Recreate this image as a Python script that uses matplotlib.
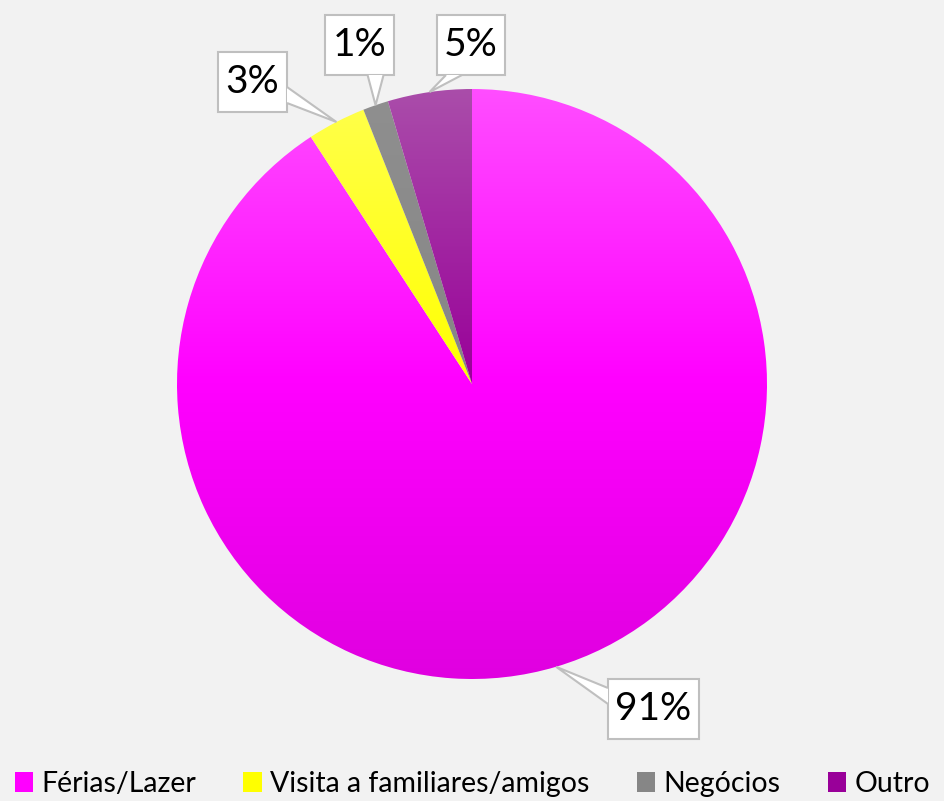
import numpy as np
import matplotlib
matplotlib.use("Agg")
import matplotlib.pyplot as plt
from matplotlib.colors import LinearSegmentedColormap
from matplotlib.patches import Rectangle, Polygon, Patch

plt.rcParams['font.family'] = ['Lato', 'DejaVu Sans']

# data
categories = ['Férias/Lazer', 'Visita a familiares/amigos', 'Negócios', 'Outro']
values = [90.8, 3.2, 1.4, 4.6]
pct_labels = ['91%', '3%', '1%', '5%']

# colours: (light top, base, dark bottom)
base_colors = ['#FF00FF', '#FFFF00', '#868686', '#990099']
light_colors = ['#FF4DFF', '#FFFF4D', '#8F8F8F', '#AA4DAA']
dark_colors = ['#E000E0', '#E0E000', '#7A7A7A', '#870087']

# layout (pixels)
W, H = 945, 801
CX, CY, R = 472, 384, 295
label_boxes = [  # centre x, centre y, width, height
    (653.5, 709, 91, 60),
    (252.5, 82, 69, 60),
    (359.5, 45, 69, 60),
    (471, 45, 68, 60),
]


def to_data(px, py):
    return (px - CX) / R, (CY - py) / R


fig = plt.figure(figsize=(W / 100, H / 100), dpi=100, facecolor='#F2F2F2')
ax = fig.add_axes([0, 0, 1, 1])
ax.set_facecolor('#F2F2F2')

wedges, _ = ax.pie(values, startangle=90, counterclock=False, radius=1,
                   center=(0, 0), wedgeprops=dict(linewidth=0))

grad = np.linspace(0, 1, 256).reshape(-1, 1)
for w, lc, bc, dc in zip(wedges, light_colors, base_colors, dark_colors):
    w.set_facecolor('none')
    cmap = LinearSegmentedColormap.from_list('g', [lc, bc, dc])
    im = ax.imshow(grad, cmap=cmap, extent=(-1, 1, -1, 1), origin='upper',
                   aspect='auto', interpolation='bilinear', zorder=1)
    im.set_clip_path(w)

ax.set_xlim(-CX / R, (W - CX) / R)
ax.set_ylim((CY - H) / R, CY / R)
ax.set_aspect('auto')
ax.axis('off')

# callout labels
edge = '#BFBFBF'
half = 8 / R
margin = 17 / R
for w, txt, (bx, by, bw, bh) in zip(wedges, pct_labels, label_boxes):
    mid = np.deg2rad((w.theta1 + w.theta2) / 2)
    tip = (np.cos(mid), np.sin(mid))
    cx, cy = to_data(bx, by)
    hw, hh = bw / 2 / R, bh / 2 / R
    x0, x1, y0, y1 = cx - hw, cx + hw, cy - hh, cy + hh
    ax.add_patch(Rectangle((x0, y0), x1 - x0, y1 - y0, facecolor='white',
                           edgecolor=edge, linewidth=1.5, zorder=3))
    dx = max(x0 - tip[0], tip[0] - x1, 0)
    dy = max(y0 - tip[1], tip[1] - y1, 0)
    if dx > dy:
        sx = x1 if tip[0] > x1 else x0
        c = np.clip(tip[1], y0 + margin, y1 - margin)
        pts = [(sx, c - half), tip, (sx, c + half)]
    else:
        sy = y1 if tip[1] > y1 else y0
        c = np.clip(tip[0], x0 + margin, x1 - margin)
        pts = [(c - half, sy), tip, (c + half, sy)]
    ax.add_patch(Polygon(pts, closed=False, facecolor='white', edgecolor=edge,
                         linewidth=1.5, zorder=4))
    ax.text(cx, cy, txt, ha='center', va='center', fontsize=28,
            color='black', zorder=5)

handles = [Patch(facecolor=c, edgecolor='none') for c in base_colors]
fig.legend(handles, categories, loc='center', bbox_to_anchor=(0.5, 1 - 784 / H),
           ncol=4, frameon=False, fontsize=20.5, handlelength=0.65,
           handleheight=0.65, handletextpad=0.3, columnspacing=1.65,
           labelcolor='black')

fig.savefig('out.png', dpi=100, facecolor=fig.get_facecolor())
